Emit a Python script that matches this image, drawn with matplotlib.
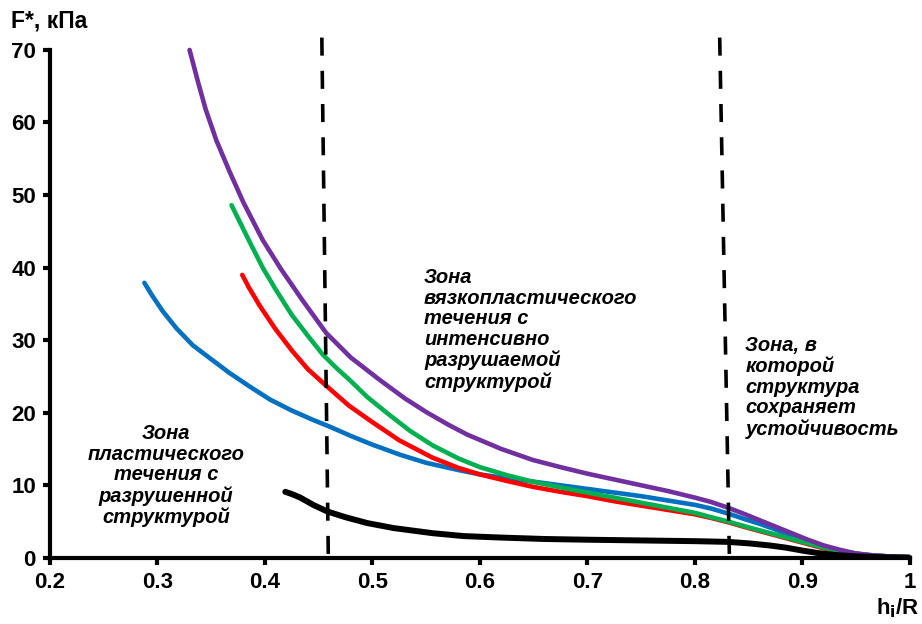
import matplotlib
matplotlib.use("Agg")
import matplotlib.pyplot as plt

plt.rcParams['font.family'] = ['Liberation Sans', 'DejaVu Sans']

# curves F*(h_i/R)
blue_x = [0.288, 0.295, 0.305, 0.318, 0.333, 0.349, 0.367, 0.386, 0.405, 0.425, 0.445, 0.46, 0.48, 0.50,
          0.526, 0.55, 0.58, 0.60, 0.619, 0.65, 0.675, 0.70, 0.725, 0.75, 0.775, 0.80, 0.815, 0.831, 0.845,
          0.86, 0.875, 0.89, 0.905, 0.92, 0.935, 0.95, 0.965, 0.98, 1.0]
blue_y = [37.9, 36.2, 34.0, 31.6, 29.3, 27.5, 25.5, 23.6, 21.8, 20.3, 19.0, 18.1, 16.8, 15.6,
          14.2, 13.1, 12.1, 11.5, 11.1, 10.5, 10.0, 9.5, 9.0, 8.5, 7.9, 7.3, 6.8, 6.1, 5.4,
          4.7, 3.9, 3.0, 2.2, 1.4, 0.9, 0.55, 0.3, 0.2, 0.1]

red_x = [0.379, 0.385, 0.395, 0.41, 0.425, 0.44, 0.458, 0.478, 0.50, 0.525, 0.556, 0.58, 0.60, 0.625,
         0.649, 0.675, 0.70, 0.725, 0.75, 0.775, 0.80, 0.815, 0.831, 0.845, 0.86, 0.875, 0.89, 0.905,
         0.92, 0.935, 0.95, 0.965, 0.98, 1.0]
red_y = [39.0, 37.3, 34.8, 31.5, 28.6, 26.0, 23.6, 21.0, 18.7, 16.2, 13.8, 12.4, 11.5, 10.6,
         9.8, 9.1, 8.5, 7.8, 7.2, 6.6, 6.0, 5.5, 4.9, 4.3, 3.7, 3.1, 2.5, 1.9,
         1.3, 0.9, 0.55, 0.3, 0.2, 0.1]

green_x = [0.369, 0.375, 0.385, 0.398, 0.41, 0.425, 0.44, 0.454, 0.467, 0.479, 0.495, 0.515, 0.535,
           0.556, 0.58, 0.60, 0.625, 0.649, 0.675, 0.70, 0.725, 0.75, 0.775, 0.80, 0.815, 0.831, 0.845,
           0.86, 0.875, 0.89, 0.905, 0.92, 0.935, 0.95, 0.965, 0.98, 1.0]
green_y = [48.6, 46.8, 43.8, 40.0, 37.0, 33.5, 30.6, 28.0, 26.1, 24.5, 22.2, 19.8, 17.5,
           15.5, 13.7, 12.5, 11.4, 10.5, 9.7, 9.0, 8.3, 7.6, 6.9, 6.2, 5.6, 5.0, 4.4,
           3.8, 3.2, 2.6, 2.0, 1.4, 0.95, 0.6, 0.35, 0.2, 0.1]

purple_x = [0.330, 0.338, 0.345, 0.355, 0.367, 0.38, 0.398, 0.415, 0.435, 0.457, 0.48, 0.507, 0.53,
            0.55, 0.57, 0.588, 0.62, 0.649, 0.675, 0.70, 0.725, 0.75, 0.775, 0.80, 0.815, 0.831, 0.845,
            0.86, 0.875, 0.89, 0.905, 0.92, 0.935, 0.95, 0.965, 0.98, 1.0]
purple_y = [70, 65.5, 61.8, 57.5, 53.3, 49.0, 43.8, 39.8, 35.5, 31.0, 27.6, 24.5, 22.0,
            20.1, 18.4, 17.0, 15.0, 13.5, 12.5, 11.6, 10.8, 10.0, 9.2, 8.3, 7.7, 6.9, 6.1,
            5.2, 4.3, 3.4, 2.5, 1.7, 1.1, 0.6, 0.35, 0.2, 0.1]

black_x = [0.419, 0.425, 0.433, 0.445, 0.458, 0.475, 0.495, 0.52, 0.556, 0.585, 0.619, 0.66, 0.70,
           0.75, 0.80, 0.831, 0.85, 0.87, 0.885, 0.90, 0.915, 0.93, 0.95, 0.97, 1.0]
black_y = [9.1, 8.8, 8.3, 7.3, 6.4, 5.6, 4.8, 4.1, 3.4, 3.0, 2.8, 2.6, 2.5,
           2.4, 2.3, 2.2, 2.0, 1.7, 1.4, 1.0, 0.65, 0.4, 0.2, 0.1, 0.0]

# zone borders (slightly slanted in the source)
border1_x = [0.453, 0.459]
border2_x = [0.823, 0.832]
border_y = [71.7, 0.4]

xticks = [0.2, 0.3, 0.4, 0.5, 0.6, 0.7, 0.8, 0.9, 1.0]
xtick_labels = ['0.2', '0.3', '0.4', '0.5', '0.6', '0.7', '0.8', '0.9', '1']
yticks = [0, 10, 20, 30, 40, 50, 60, 70]

fig = plt.figure(figsize=(9.22, 6.24), dpi=100)
ax = fig.add_axes([0.054, 0.106, 0.933, 0.814])

ax.plot(blue_x, blue_y, color='#0070C0', lw=3.3, solid_capstyle='round', solid_joinstyle='round')
ax.plot(red_x, red_y, color='#FF0000', lw=3.3, solid_capstyle='round', solid_joinstyle='round')
ax.plot(green_x, green_y, color='#00B050', lw=3.3, solid_capstyle='round', solid_joinstyle='round')
ax.plot(purple_x, purple_y, color='#7030A0', lw=3.3, solid_capstyle='round', solid_joinstyle='round',
        clip_on=False)
ax.plot(black_x, black_y, color='black', lw=4.3, solid_capstyle='round', solid_joinstyle='round')

for bx in (border1_x, border2_x):
    ax.plot(bx, border_y, color='black', lw=2.6, dashes=(5, 4.2), clip_on=False)

ax.set_xlim(0.2, 1.0)
ax.set_ylim(0, 70)
ax.set_xticks(xticks)
ax.set_xticklabels(xtick_labels)
ax.set_yticks(yticks)

for s in ('top', 'right'):
    ax.spines[s].set_visible(False)
for s in ('left', 'bottom'):
    ax.spines[s].set_linewidth(3)
ax.tick_params(axis='both', width=3, length=5, labelsize=16, pad=5)
for lbl in ax.get_xticklabels() + ax.get_yticklabels():
    lbl.set_fontweight('bold')

fig.text(0.012, 0.966, 'F*, кПа', fontsize=16.5, fontweight='bold', ha='left', va='center')
fig.text(0.997, 0.026, r'h$_\mathbf{i}$/R', fontsize=16, fontweight='bold', ha='right', va='center')

tstyle = dict(fontsize=14.5, fontweight='bold', style='italic', linespacing=1.1)
ax.text(0.308, 11.3, 'Зона\nпластического\nтечения с\nразрушенной\nструктурой',
        ha='center', va='center', **tstyle)
ax.text(0.548, 39.9, 'Зона\nвязкопластического\nтечения с\nинтенсивно\nразрушаемой\nструктурой',
        ha='left', va='top', **tstyle)
ax.text(0.847, 30.6, 'Зона, в\nкоторой\nструктура\nсохраняет\nустойчивость',
        ha='left', va='top', **tstyle)

fig.savefig('out.png', dpi=100)
